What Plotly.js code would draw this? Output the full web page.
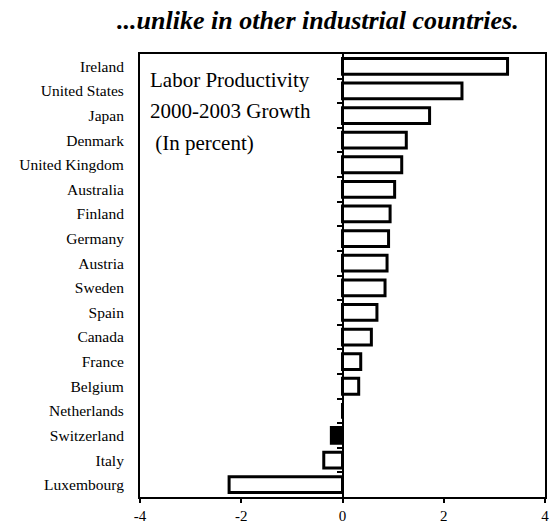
<!DOCTYPE html>
<html>
<head>
<meta charset="utf-8">
<script src="https://cdn.plot.ly/plotly-3.0.1.min.js"></script>
<style>
  html, body { margin: 0; padding: 0; background: #fff; }
  #chart { width: 550px; height: 525px; }
</style>
</head>
<body>
<div id="chart"></div>
<script>
// Labor productivity growth, 2000-2003, in percent
const countries = [
  'Ireland', 'United States', 'Japan', 'Denmark', 'United Kingdom',
  'Australia', 'Finland', 'Germany', 'Austria', 'Sweden', 'Spain',
  'Canada', 'France', 'Belgium', 'Netherlands', 'Switzerland', 'Italy',
  'Luxembourg'
];
const growth = [
  3.26, 2.36, 1.72, 1.26, 1.17,
  1.03, 0.94, 0.91, 0.88, 0.84, 0.68,
  0.57, 0.36, 0.32, 0.00, -0.22, -0.37,
  -2.24
];
const highlighted = 'Switzerland';
const xTicks = [-4, -2, 0, 2, 4];
const boxLines = ['Labor Productivity', '2000-2003 Growth', '\u00a0(In percent)'];

const serif = "'Liberation Serif', 'DejaVu Serif', serif";

const fills = countries.map(c => (c === highlighted ? '#000000' : '#ffffff'));

const trace = {
  type: 'bar',
  orientation: 'h',
  x: growth,
  y: countries,
  marker: { color: fills, line: { color: '#000000', width: 3 } },
  hoverinfo: 'x+y'
};

// Tick marks along the zero line sit between the categories
const boundaryTicks = countries.slice(0, -1).map((_, i) => i + 0.5);

const layout = {
  width: 550,
  height: 525,
  margin: { l: 140, r: 5, t: 54, b: 28 },
  paper_bgcolor: '#ffffff',
  plot_bgcolor: '#ffffff',
  showlegend: false,
  bargap: 0.36,
  title: {
    text: '<b><i>...unlike in other industrial countries.</i></b>',
    font: { family: serif, size: 26, color: '#000000' },
    x: 0.578,
    xanchor: 'center',
    y: 0.962,
    yanchor: 'middle'
  },
  xaxis: {
    range: [-4, 4],
    tickvals: xTicks,
    ticktext: xTicks.map(String),
    ticks: 'outside',
    ticklen: 4,
    tickwidth: 2,
    tickcolor: '#000000',
    showline: true,
    linecolor: '#000000',
    linewidth: 2,
    mirror: true,
    showgrid: false,
    zeroline: false,
    tickfont: { family: serif, size: 15, color: '#000000' },
    fixedrange: true
  },
  yaxis: {
    type: 'category',
    categoryorder: 'array',
    categoryarray: countries,
    range: [countries.length - 0.5, -0.5],
    ticks: '',
    showline: true,
    linecolor: '#000000',
    linewidth: 2,
    mirror: true,
    showgrid: false,
    zeroline: false,
    ticklabelstandoff: 11,
    tickfont: { family: serif, size: 15.5, color: '#000000' },
    fixedrange: true
  },
  // Zero line carrying the short category-boundary ticks
  yaxis2: {
    overlaying: 'y',
    anchor: 'free',
    position: 0.5,
    side: 'left',
    range: [countries.length - 0.5, -0.5],
    tickvals: boundaryTicks,
    showticklabels: false,
    ticks: 'outside',
    ticklen: 5,
    tickwidth: 2,
    tickcolor: '#000000',
    showline: true,
    linecolor: '#000000',
    linewidth: 2,
    showgrid: false,
    zeroline: false,
    fixedrange: true
  },
  annotations: boxLines.map((line, i) => ({
    text: line,
    xref: 'x',
    yref: 'y',
    x: -3.84,
    y: i * 1.28 + 0.55,
    xanchor: 'left',
    yanchor: 'middle',
    showarrow: false,
    font: { family: serif, size: 21, color: '#000000' }
  }))
};

// An empty trace keeps the zero-line axis active
const anchorTrace = {
  type: 'scatter',
  x: [],
  y: [],
  yaxis: 'y2',
  hoverinfo: 'skip'
};

Plotly.newPlot('chart', [trace, anchorTrace], layout, { displayModeBar: false, staticPlot: true });
</script>
</body>
</html>
